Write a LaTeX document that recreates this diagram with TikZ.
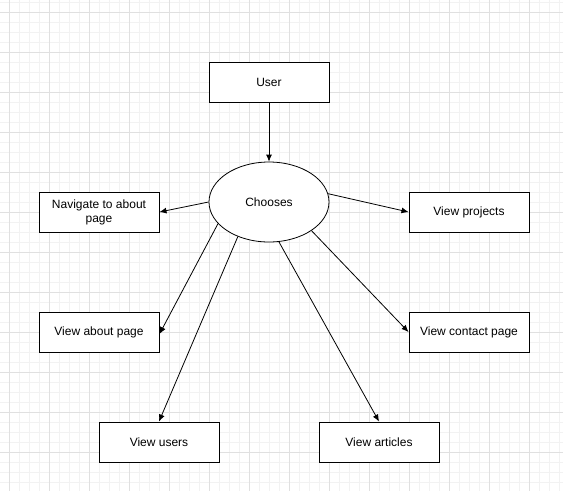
\documentclass[tikz,border=0pt]{standalone}
\usepackage{fontspec}
\setmainfont{Liberation Sans}
\usepackage{tikz}
\usetikzlibrary{arrows.meta,shapes.geometric}

\begin{document}
\begin{tikzpicture}[x=1pt,y=-1pt,
        box/.style={draw,line width=1pt,minimum width=120pt,minimum height=40pt,inner sep=0pt,align=center,font=\fontsize{12}{14}\selectfont},
        chooser/.style={draw,ellipse,line width=0.8pt,minimum width=120pt,minimum height=80pt,inner sep=0pt,font=\fontsize{12}{14}\selectfont},
        link/.style={draw,line width=0.8pt,-{Latex[length=7pt,width=6pt]}},
        minorgrid/.style={draw=black!5,line width=0.8pt},
        majorgrid/.style={draw=black!12,line width=0.8pt}]
        \useasboundingbox (0,0) rectangle (563,491);
        \fill[white] (0,0) rectangle (563,491);
        % grid
        \foreach \gx in {-1,9,...,559} \draw[minorgrid] (\gx,0) -- (\gx,491);
        \foreach \gy in {2,12,...,490} \draw[minorgrid] (0,\gy) -- (563,\gy);
        \foreach \gx in {9,49,...,559} \draw[majorgrid] (\gx,0) -- (\gx,491);
        \foreach \gy in {12,52,...,490} \draw[majorgrid] (0,\gy) -- (563,\gy);

        \node[box,fill=white] (user) at (269,82) {User};
        \node[chooser,fill=white] (ch) at (269,202) {Chooses};
        \node[box,fill=white] (nav) at (99,212) {Navigate to about\\page};
        \node[box,fill=white] (proj) at (469,212) {View projects};
        \node[box,fill=white] (about) at (99,332) {View about page};
        \node[box,fill=white] (contact) at (469,332) {View contact page};
        \node[box,fill=white] (users) at (159,442) {View users};
        \node[box,fill=white] (art) at (379,442) {View articles};

        \draw[link] (user.south) -- (ch.north);
        \draw[link] (ch.west) -- (nav.east);
        \draw[link] (ch.8) -- (proj.west);
        \draw[link] (ch.203) -- ([yshift=-2pt]about.east);
        \draw[link] (ch.228) -- (users.north);
        \draw[link] (ch.284) -- (art.north);
        \draw[link] (ch.326) -- (contact.west);
    \end{tikzpicture}
\end{document}
